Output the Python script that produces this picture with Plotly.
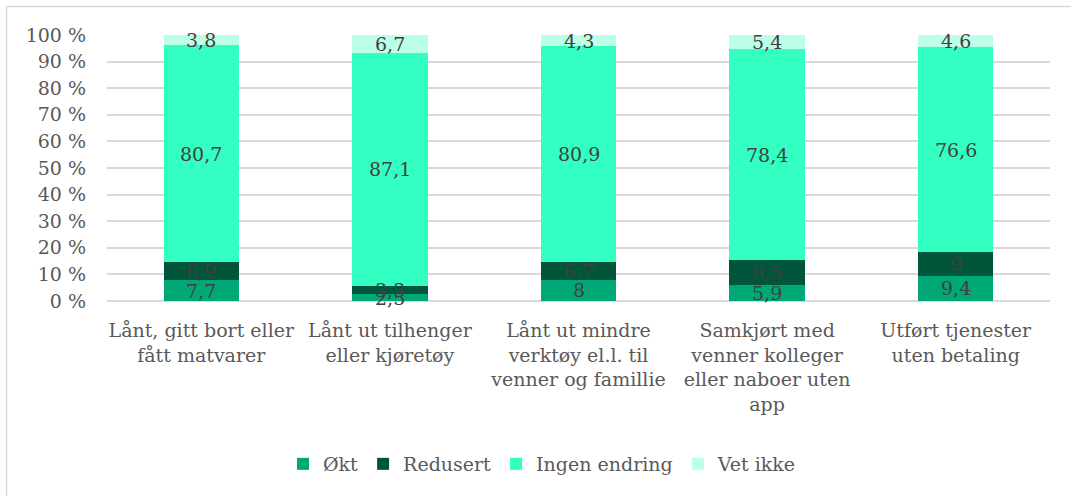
import plotly.graph_objects as go

categories = [
    "Lånt, gitt bort eller<br>fått matvarer",
    "Lånt ut tilhenger<br>eller kjøretøy",
    "Lånt ut mindre<br>verktøy el.l. til<br>venner og famillie",
    "Samkjørt med<br>venner kolleger<br>eller naboer uten<br>app",
    "Utført tjenester<br>uten betaling",
]
okt = [7.7, 2.5, 8, 5.9, 9.4]
redusert = [6.9, 3.3, 6.7, 9.5, 9]
ingen_endring = [80.7, 87.1, 80.9, 78.4, 76.6]
vet_ikke = [3.8, 6.7, 4.3, 5.4, 4.6]

series_names = ["Økt", "Redusert", "Ingen endring", "Vet ikke"]
series_values = [okt, redusert, ingen_endring, vet_ikke]
series_colors = ["#00A878", "#00553A", "#33FFC2", "#BBFFE6"]

ytick_vals = [0, 10, 20, 30, 40, 50, 60, 70, 80, 90, 100]
ytick_text = [f"{v} %" for v in ytick_vals]

FONT = "DejaVu Serif"
FS = 19

def fmt(v):
    return f"{v:g}".replace(".", ",")

fig = go.Figure()
for name, vals, col in zip(series_names, series_values, series_colors):
    fig.add_trace(go.Bar(
        x=categories, y=vals, name=name,
        marker=dict(color=col, line=dict(width=0)),
        hoverinfo="skip",
    ))

# data labels at the centre of each normalised segment
annotations = []
for i, cat in enumerate(categories):
    total = sum(s[i] for s in series_values)
    cum = 0.0
    for vals in series_values:
        v = vals[i]
        mid = (cum + v / 2) / total * 100
        cum += v
        annotations.append(dict(
            x=cat, y=mid, xref="x", yref="y", text=fmt(v), showarrow=False,
            font=dict(family=FONT, size=FS, color="#404040"),
            xanchor="center", yanchor="middle",
        ))

W, H = 1071, 496
L, R, T, B = 107, 21, 35, 195
pw, ph = W - L - R, H - T - B

def px_x(p):
    return (p - L) / pw

def px_y(p):
    return (H - B - p) / ph

fig.update_layout(
    barmode="stack", barnorm="percent", bargap=0.6,
    width=W, height=H,
    margin=dict(l=L, r=R, t=T, b=B),
    paper_bgcolor="white", plot_bgcolor="white",
    font=dict(family=FONT, size=FS, color="#595959"),
    showlegend=True,
    legend=dict(orientation="h", x=px_x(283), xanchor="left", y=px_y(464), yanchor="middle",
                font=dict(family=FONT, size=FS, color="#595959"),
                traceorder="normal", itemwidth=30, tracegroupgap=0),
    xaxis=dict(showgrid=False, showline=False, ticks="",
               tickfont=dict(family=FONT, size=FS, color="#595959"), tickangle=0,
               ticklabelstandoff=16),
    yaxis=dict(range=[0, 100], tickvals=ytick_vals, ticktext=ytick_text,
               showgrid=True, gridcolor="#D9D9D9", gridwidth=1.5,
               zeroline=True, zerolinecolor="#D9D9D9", zerolinewidth=1.5,
               showline=False, ticks="", ticklabelstandoff=20,
               tickfont=dict(family=FONT, size=FS, color="#595959")),
    annotations=annotations,
    shapes=[
        dict(type="line", xref="paper", yref="paper", x0=px_x(6.5), x1=px_x(1100), y0=px_y(6.5), y1=px_y(6.5),
             line=dict(color="#D9D9D9", width=1.5)),
        dict(type="line", xref="paper", yref="paper", x0=px_x(6.5), x1=px_x(6.5), y0=px_y(6.5), y1=px_y(520),
             line=dict(color="#D9D9D9", width=1.5)),
    ],
)

fig.write_html("out.html", config={"displayModeBar": False},
               post_script="document.body.style.margin='0px';")
